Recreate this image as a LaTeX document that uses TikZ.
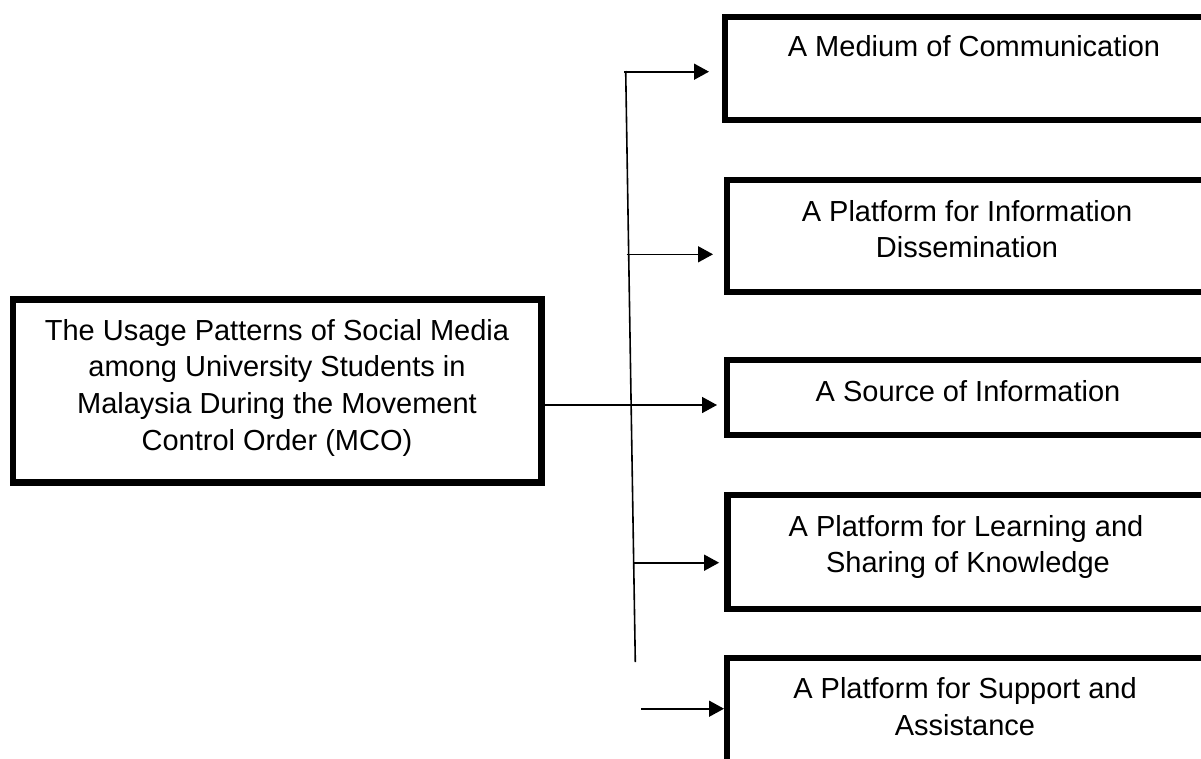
\documentclass[tikz,border=0pt]{standalone}
\usepackage{fontspec}
\setmainfont{Liberation Sans}
\usetikzlibrary{arrows.meta}
\begin{document}
\begin{tikzpicture}[x=1pt,y=-1pt,
  box/.style={draw, line width=6.5pt, rectangle, inner sep=0pt, outer sep=0pt, anchor=north west},
  txt/.style={anchor=base, inner sep=0pt, font=\fontsize{29}{36.7}\selectfont},
  conn/.style={line width=1.6pt},
  arr/.style={conn, -{Triangle[length=15pt 0 0,width=16pt 0 0]}}]
\useasboundingbox (0,0) rectangle (1201,758);
\clip (0,0) rectangle (1201,758);
\fill[white] (0,0) rectangle (1201,758);
% boxes
\node[box, minimum width=528.5pt, minimum height=183pt] (main) at (13,299.5) {};
\node[box, minimum width=490pt, minimum height=103pt] (b1) at (725,17) {};
\node[box, minimum width=490pt, minimum height=112pt] (b2) at (727,180) {};
\node[box, minimum width=490pt, minimum height=75pt] (b3) at (727,360) {};
\node[box, minimum width=490pt, minimum height=114pt] (b4) at (727.5,495) {};
\node[box, minimum width=490pt, minimum height=150pt] (b5) at (727,658) {};
% texts
\node[txt] (m1) at (277,340) {The Usage Patterns of Social Media};
\node[txt] (m2) at (277,376.7) {among University Students in};
\node[txt] (m3) at (277,413.4) {Malaysia During the Movement};
\node[txt] (m4) at (277,450.1) {Control Order (MCO)};
\node[txt] (t1) at (974,56) {A Medium of Communication};
\node[txt] (t2a) at (967,221) {A Platform for Information};
\node[txt] (t2b) at (967,257.7) {Dissemination};
\node[txt] (t3) at (968,401) {A Source of Information};
\node[txt] (t4a) at (966,536) {A Platform for Learning and};
\node[txt] (t4b) at (968,572.7) {Sharing of Knowledge};
\node[txt] (t5a) at (965,698.7) {A Platform for Support and};
\node[txt] (t5b) at (965,735.4) {Assistance};
% connectors
\coordinate (vtop) at (625.7,71);
\coordinate (vbot) at (635.3,662);
\draw[conn] (vtop) -- (vbot);
\coordinate (s1) at (624,71.7);
\coordinate (s2) at (626.7,254.3);
\coordinate (s3) at (541.5,405);
\coordinate (s4) at (634.3,562.7);
\coordinate (s5) at (641,708.7);
\draw[arr, shorten >=16pt] (s1) -- (s1 -| b1.west);
\draw[arr, shorten >=14pt] (s2) -- (s2 -| b2.west);
\draw[arr, shorten >=10pt] (s3) -- (s3 -| b3.west);
\draw[arr, shorten >=8.4pt] (s4) -- (s4 -| b4.west);
\draw[arr, shorten >=3pt] (s5) -- (s5 -| b5.west);
\end{tikzpicture}
\end{document}
